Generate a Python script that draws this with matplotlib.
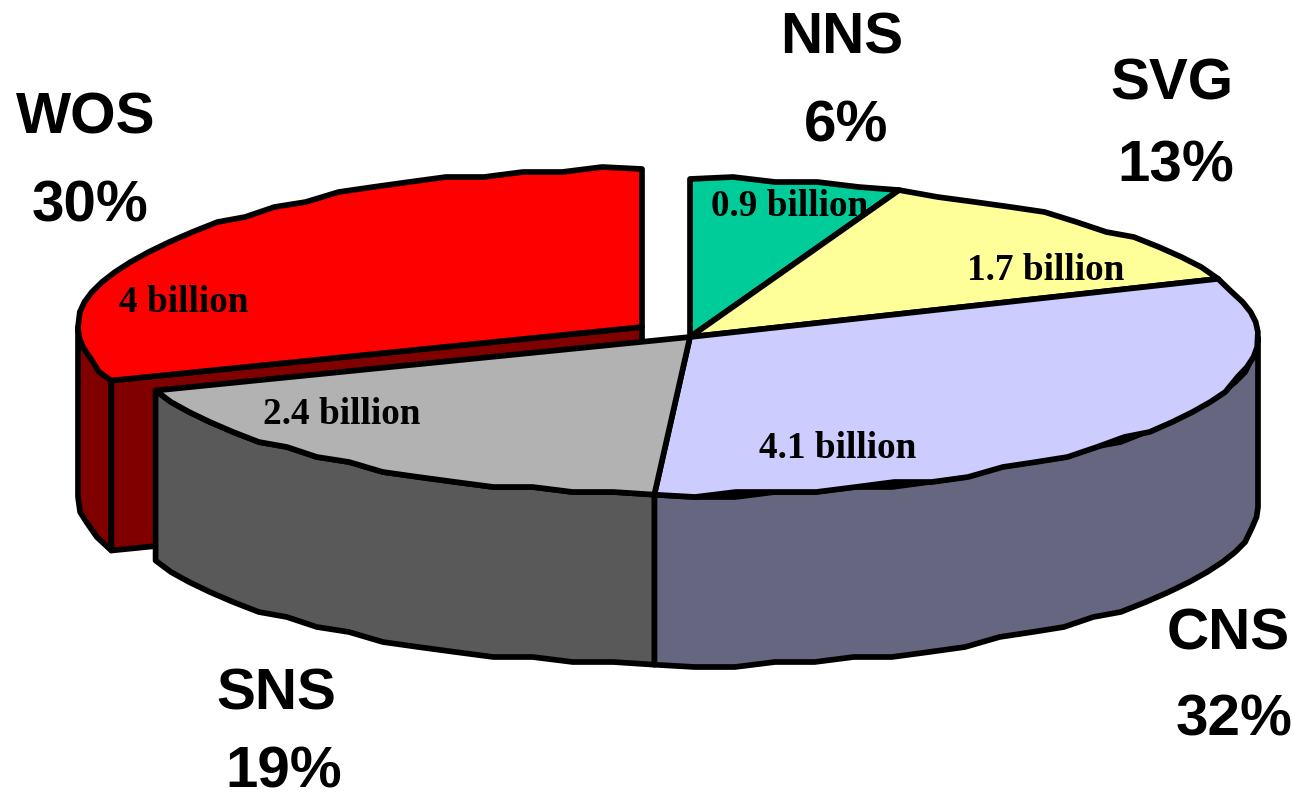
import numpy as np
import matplotlib
matplotlib.use('Agg')
import matplotlib.pyplot as plt
from matplotlib.patches import Polygon

names = ['NNS', 'SVG', 'CNS', 'SNS', 'WOS']
shares = [6, 13, 32, 19, 30]
# slice sizes as drawn (the printed percents are rounded)
drawn_shares = [6, 13, 32, 18.5, 30.5]
billions = ['0.9 billion', '1.7 billion', '4.1 billion', '2.4 billion', '4 billion']
top_colors = ['#00CC99', '#FFFF99', '#CCCCFF', '#B2B2B2', '#FF0000']
side_colors = ['#006A50', '#80804C', '#666680', '#595959', '#800000']

# pie geometry in picture pixels
cx, cy = 690, 337
rx, ry = 568, 158
wos_rx = 564
depth = 170
wos_dx, wos_dy = -48, -10
lw = 4.1

# where the texts sit
name_pos = [(842, 39), (1172, 85), (1228, 635), (276, 695), (86, 118)]
pct_pos = [(846, 127), (1176, 167), (1234, 720), (284, 773), (90, 206)]
billion_pos = [(790, 207), (1046, 271), (838, 448), (342, 415), (184, 303)]


def rim(a0, a1, dx=0, dy=0, r=rx):
    # angle clockwise from straight up, rough steps like the low res original
    n = max(int(abs(a1 - a0) / 4), 2)
    a = np.radians(np.linspace(a0, a1, n + 1))
    x = r * np.sin(a)
    y = -ry * np.cos(a)
    y[1:-1] = np.round(y[1:-1] / 5) * 5
    return np.column_stack([cx + dx + x, cy + dy + y])


def shape(ax, pts, color):
    ax.add_patch(Polygon(pts, closed=True, facecolor=color, edgecolor='black',
                         linewidth=lw, joinstyle='round'))


fig = plt.figure(figsize=(12.99, 7.99), dpi=100)
ax = fig.add_axes([0, 0, 1, 1])
ax.set_xlim(0, 1299)
ax.set_ylim(799, 0)
ax.axis('off')

edges = np.cumsum([0] + drawn_shares) * 3.6

# exploded WOS slice goes at the back
edge = rim(edges[4], edges[5], wos_dx, wos_dy, wos_rx)
wall = rim(edges[4], 270, wos_dx, wos_dy, wos_rx)
shape(ax, np.vstack([wall, wall[::-1] + [0, depth]]), side_colors[4])
tip = np.array([cx + wos_dx, cy + wos_dy])
shape(ax, [tip, edge[0], edge[0] + [0, depth], tip + [0, depth]], side_colors[4])
shape(ax, np.vstack([[tip], edge]), top_colors[4])

# walls of the front slices
w1 = rim(90, edges[3])
w2 = rim(edges[3], edges[4])
shape(ax, np.vstack([w1, w1[::-1] + [0, depth]]), side_colors[2])
shape(ax, np.vstack([w2, w2[::-1] + [0, depth]]), side_colors[3])

# top faces
for i in range(4):
    shape(ax, np.vstack([[[cx, cy]], rim(edges[i], edges[i + 1])]), top_colors[i])

for i in range(5):
    ax.text(name_pos[i][0], name_pos[i][1], names[i], family='Liberation Sans',
            weight='bold', fontsize=42, ha='center', va='center')
    ax.text(pct_pos[i][0], pct_pos[i][1], str(shares[i]) + '%', family='Liberation Sans',
            weight='bold', fontsize=42, ha='center', va='center')
    ax.text(billion_pos[i][0], billion_pos[i][1], billions[i], family='Liberation Serif',
            weight='bold', fontsize=26.8, ha='center', va='center')

plt.savefig('out.png', dpi=100)
